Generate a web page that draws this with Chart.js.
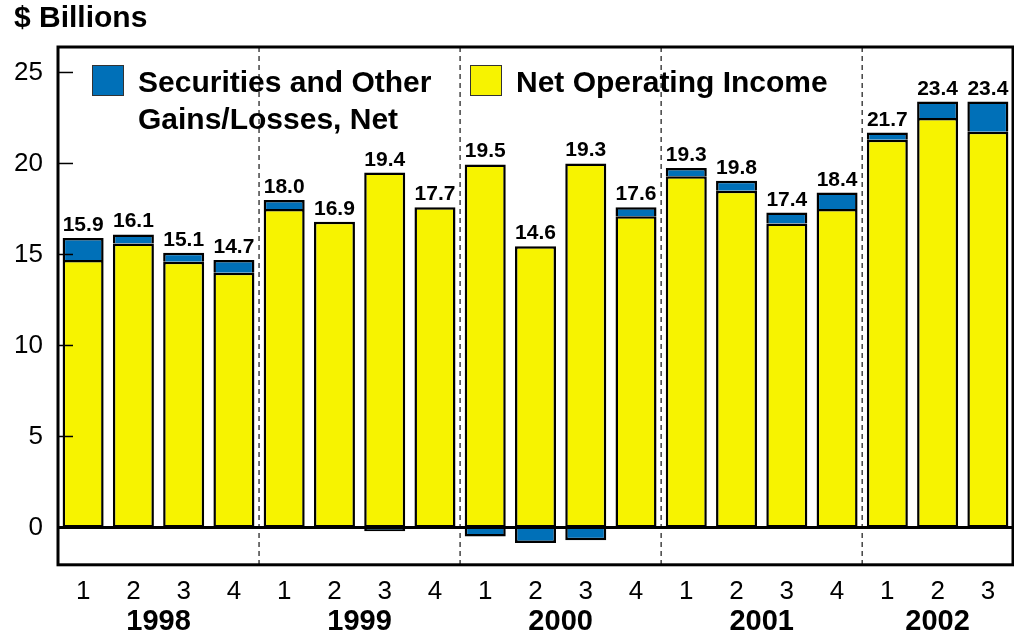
<!DOCTYPE html>
<html>
<head>
<meta charset="utf-8">
<script src="https://cdn.jsdelivr.net/npm/chart.js@4.4.1/dist/chart.umd.min.js"></script>
<style>
  html, body { margin: 0; padding: 0; background: #fff; }
  #wrap { width: 1014px; height: 637px; }
</style>
</head>
<body>
<div id="wrap"><canvas id="c" width="1014" height="637"></canvas></div>
<script>
// ---- data ----
const quarters = ['1','2','3','4','1','2','3','4','1','2','3','4','1','2','3','4','1','2','3'];
const years = ['1998','1999','2000','2001','2002'];
const netOperatingIncome = [14.7, 15.6, 14.6, 14.0, 17.5, 16.8, 19.5, 17.6, 19.95, 15.45, 20.0, 17.1, 19.3, 18.5, 16.7, 17.5, 21.3, 22.5, 21.75];
const securitiesGains =    [1.2, 0.5, 0.5, 0.7, 0.5, null, -0.2, null, -0.5, -0.85, -0.7, 0.5, 0.45, 0.55, 0.6, 0.9, 0.4, 0.9, 1.65];
const totalLabels = ['15.9','16.1','15.1','14.7','18.0','16.9','19.4','17.7','19.5','14.6','19.3','17.6','19.3','19.8','17.4','18.4','21.7','23.4','23.4'];
const yTicks = [0, 5, 10, 15, 20, 25];
const gainsLegend = ['Securities and Other', 'Gains/Losses, Net'];
const opLegend = ['Net Operating Income'];

const FONT = "'Liberation Sans', Arial, Helvetica, sans-serif";
const BLUE = '#0070B8';
const YELLOW = '#F7F300';

const deco = {
  id: 'deco',
  beforeDatasetsDraw(chart) {
    const ctx = chart.ctx, a = chart.chartArea, x = chart.scales.x;
    ctx.save();
    ctx.strokeStyle = '#444';
    ctx.lineWidth = 1.5;
    ctx.setLineDash([5, 4]);
    quarters.forEach((q, i) => {
      if (i > 0 && q === '1') {
        const px = (x.getPixelForValue(i - 1) + x.getPixelForValue(i)) / 2;
        ctx.beginPath();
        ctx.moveTo(px, a.top);
        ctx.lineTo(px, a.bottom);
        ctx.stroke();
      }
    });
    ctx.restore();
  },
  afterDatasetsDraw(chart) {
    const ctx = chart.ctx, a = chart.chartArea, x = chart.scales.x, y = chart.scales.y;
    ctx.save();
    // zero line
    ctx.strokeStyle = '#000';
    ctx.lineWidth = 3;
    const y0 = y.getPixelForValue(0);
    ctx.beginPath(); ctx.moveTo(a.left, y0); ctx.lineTo(a.right, y0); ctx.stroke();
    // frame
    ctx.strokeRect(a.left, a.top, a.right - a.left, a.bottom - a.top);
    // inward tick marks
    ctx.lineWidth = 1.5;
    yTicks.forEach(v => {
      const py = y.getPixelForValue(v);
      ctx.beginPath(); ctx.moveTo(a.left, py); ctx.lineTo(a.left + 15, py); ctx.stroke();
    });
    // bar total labels
    ctx.fillStyle = '#000';
    ctx.font = 'bold 21px ' + FONT;
    ctx.textAlign = 'center';
    ctx.textBaseline = 'alphabetic';
    totalLabels.forEach((t, i) => {
      const top = netOperatingIncome[i] + Math.max(securitiesGains[i] || 0, 0);
      ctx.fillText(t, x.getPixelForValue(i), y.getPixelForValue(top) - 7);
    });
    // year labels
    ctx.font = 'bold 29px ' + FONT;
    ctx.textBaseline = 'middle';
    let g = -1; const groups = [];
    quarters.forEach((q, i) => {
      if (q === '1') { g++; groups[g] = { s: i, e: i }; } else groups[g].e = i;
    });
    groups.forEach((gr, k) => {
      const cx = (x.getPixelForValue(gr.s) + x.getPixelForValue(gr.e)) / 2;
      ctx.fillText(years[k], cx, 622);
    });
    // legend
    const drawKey = (lx, ly, color, lines) => {
      ctx.fillStyle = color;
      ctx.fillRect(lx, ly, 32, 31);
      ctx.strokeStyle = '#333';
      ctx.lineWidth = 1;
      ctx.strokeRect(lx + 0.5, ly + 0.5, 31, 30);
      ctx.fillStyle = '#000';
      ctx.font = 'bold 30px ' + FONT;
      ctx.textAlign = 'left';
      ctx.textBaseline = 'middle';
      lines.forEach((l, j) => ctx.fillText(l, lx + 46, ly + 19 + j * 37));
    };
    drawKey(a.left + 34, a.top + 18, BLUE, gainsLegend);
    drawKey(a.left + 412, a.top + 18, YELLOW, opLegend);
    ctx.restore();
  }
};

new Chart(document.getElementById('c'), {
  type: 'bar',
  data: {
    labels: quarters,
    datasets: [
      { label: opLegend.join(' '), data: netOperatingIncome, backgroundColor: YELLOW, borderColor: '#000', borderWidth: 2.5, borderSkipped: false },
      { label: gainsLegend.join(' '), data: securitiesGains, backgroundColor: BLUE, borderColor: '#000', borderWidth: 2.5, borderSkipped: 'start' }
    ]
  },
  options: {
    responsive: false,
    animation: false,
    devicePixelRatio: 1,
    layout: { padding: { left: 14, right: 1, top: 0, bottom: 19 } },
    datasets: { bar: { categoryPercentage: 1, barPercentage: 0.816 } },
    scales: {
      x: {
        stacked: true,
        grid: { display: false, drawTicks: false },
        border: { display: false },
        ticks: { color: '#000', font: { size: 26, family: FONT }, padding: 11, autoSkip: false, maxRotation: 0 }
      },
      y: {
        stacked: true,
        min: -2.05, max: 26.4,
        grid: { display: false, drawTicks: false },
        border: { display: false },
        afterBuildTicks: s => { s.ticks = yTicks.map(v => ({ value: v })); },
        afterFit: s => { s.width = 44; },
        ticks: { color: '#000', font: { size: 26, family: FONT }, padding: 15 }
      }
    },
    plugins: {
      legend: { display: false },
      tooltip: { enabled: false },
      title: {
        display: true, text: '$ Billions', align: 'start', color: '#000',
        font: { size: 30, weight: 'bold', family: FONT },
        padding: { top: 1, bottom: 10 }
      }
    }
  },
  plugins: [deco]
});
</script>
</body>
</html>
